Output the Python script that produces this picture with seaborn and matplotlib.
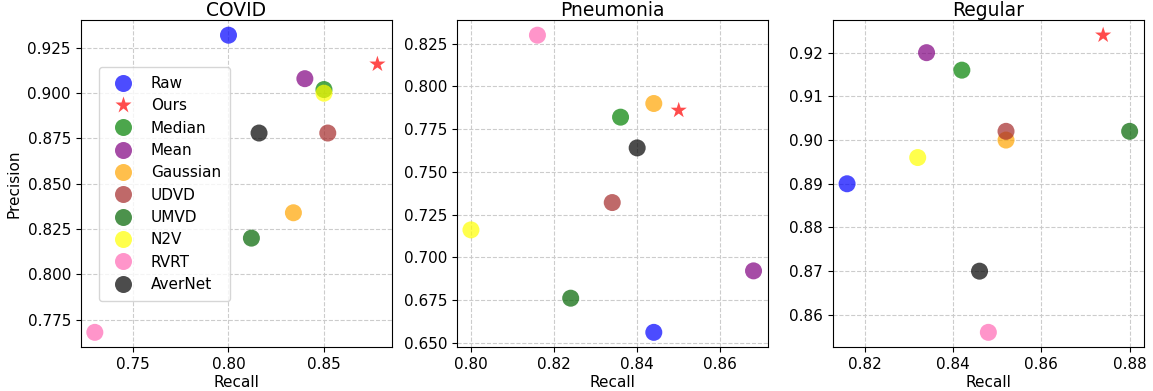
import pandas as pd
import matplotlib.pyplot as plt
import seaborn as sns
from matplotlib.ticker import MultipleLocator

methods = ['Raw', 'Ours', 'Median', 'Mean', 'Gaussian', 'UDVD', 'UMVD', 'N2V', 'RVRT', 'AverNet']
colors = ['blue', 'red', 'green', 'purple', 'orange', 'brown', 'darkgreen', 'yellow', 'hotpink', 'black']

covid_recall = [0.800, 0.878, 0.850, 0.840, 0.834, 0.852, 0.812, 0.850, 0.730, 0.816]
covid_precision = [0.932, 0.916, 0.902, 0.908, 0.834, 0.878, 0.820, 0.900, 0.768, 0.878]

pneu_recall = [0.844, 0.850, 0.836, 0.868, 0.844, 0.834, 0.824, 0.800, 0.816, 0.840]
pneu_precision = [0.656, 0.786, 0.782, 0.692, 0.790, 0.732, 0.676, 0.716, 0.830, 0.764]

reg_recall = [0.816, 0.874, 0.842, 0.834, 0.852, 0.852, 0.880, 0.832, 0.848, 0.846]
reg_precision = [0.890, 0.924, 0.916, 0.920, 0.900, 0.902, 0.902, 0.896, 0.856, 0.870]

panels = [('COVID', covid_recall, covid_precision),
          ('Pneumonia', pneu_recall, pneu_precision),
          ('Regular', reg_recall, reg_precision)]

palette = dict(zip(methods, colors))
markers = {m: ('*' if m == 'Ours' else 'o') for m in methods}

fig, axes = plt.subplots(1, 3, figsize=(11.53, 3.91), dpi=100)

for i, (title, rec, prec) in enumerate(panels):
    ax = axes[i]
    df = pd.DataFrame({'method': methods, 'Recall': rec, 'Precision': prec})
    sns.scatterplot(data=df, x='Recall', y='Precision', hue='method', style='method',
                    palette=palette, markers=markers, s=150, alpha=0.7,
                    edgecolor='none', legend=(i == 0), ax=ax)
    ax.set_title(title, fontsize=13.5, pad=3)
    ax.grid(True, linestyle='--', color='#cccccc', linewidth=0.8)
    ax.set_axisbelow(True)
    ax.tick_params(labelsize=11)
    ax.set_xlabel('Recall', fontsize=11, labelpad=2)
    if i == 0:
        ax.xaxis.set_major_locator(MultipleLocator(0.05))
        ax.set_ylabel('Precision', fontsize=11)
        ax.legend(loc='upper left', bbox_to_anchor=(0.058, 0.858), borderaxespad=0,
                  fontsize=11, markerscale=1.0, handletextpad=0.8, labelspacing=0.48,
                  borderpad=0.6)
    else:
        ax.set_ylabel('')

plt.subplots_adjust(left=0.07, right=0.992, top=0.948, bottom=0.112, wspace=0.21)
plt.savefig('out.png', dpi=100)
